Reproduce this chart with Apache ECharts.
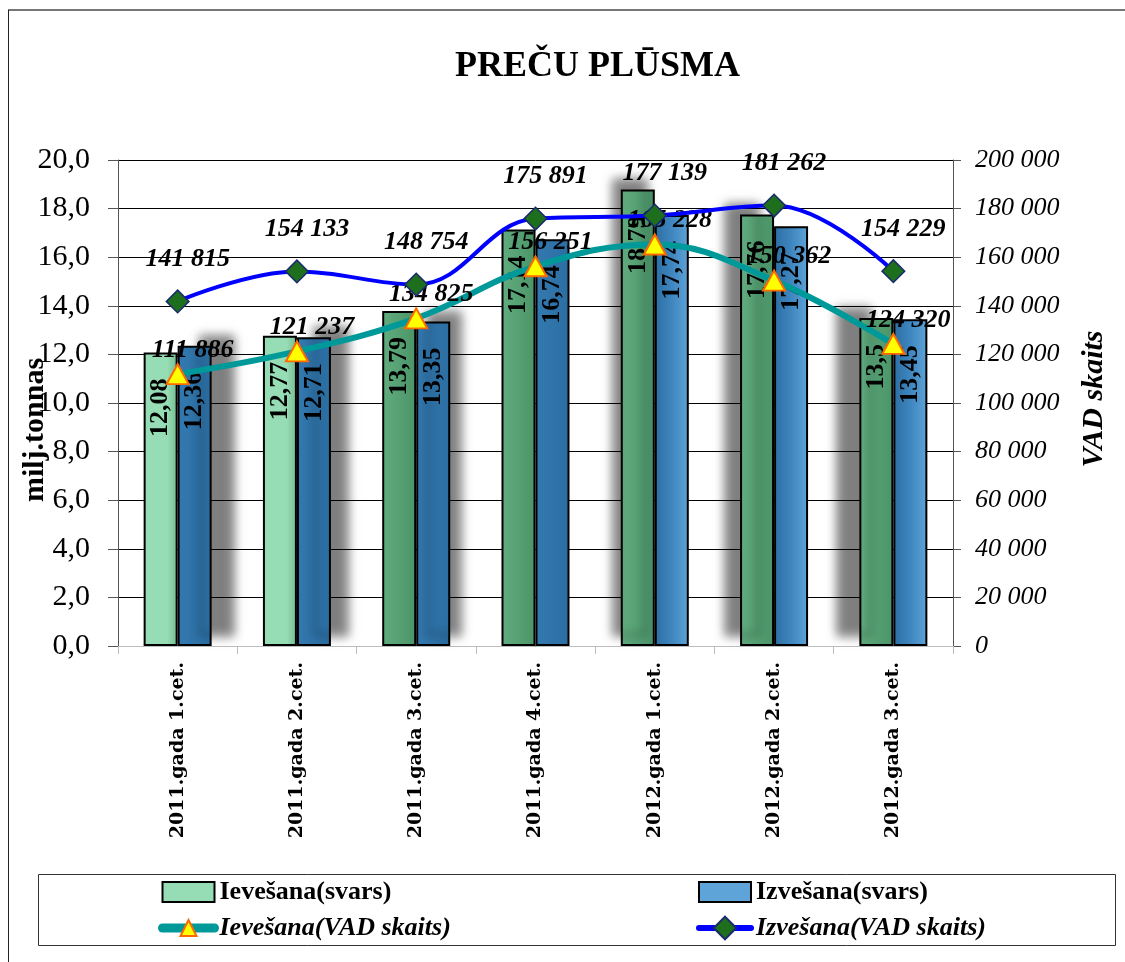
<!DOCTYPE html>
<html><head><meta charset="utf-8">
<script src="https://cdn.jsdelivr.net/npm/echarts@6/dist/echarts.min.js"></script>
<style>html,body{margin:0;padding:0;background:#fff}#c{width:1125px;height:962px}</style>
</head><body><div id="c"></div>
<script>
const categories = ['2011.gada 1.cet.','2011.gada 2.cet.','2011.gada 3.cet.','2011.gada 4.cet.','2012.gada 1.cet.','2012.gada 2.cet.','2012.gada 3.cet.'];
const ievesanaSvars = [12.08, 12.77, 13.79, 17.14, 18.79, 17.76, 13.5];
const izvesanaSvars = [12.36, 12.71, 13.35, 16.74, 17.74, 17.27, 13.45];
const ievesanaVAD = [111886, 121237, 134825, 156251, 165228, 150362, 124320];
const izvesanaVAD = [141815, 154133, 148754, 175891, 177139, 181262, 154229];
const leftTicks = {min: 0, max: 20, interval: 2};
const rightTicks = {min: 0, max: 200000, interval: 20000};

const FONT = "'Liberation Serif','Times New Roman',serif";
const sp = v => String(v).replace(/\B(?=(\d{3})+(?!\d))/g, ' ');
const comma = v => String(v).replace('.', ',');

const greenLight = '#96dcb4';
const blueDark = '#2b6ea2', blueLight = '#5ea4d8';
const shadowShift = [22, 17, 11, 0, -8, -15, -22];
const SH = 'rgba(0,0,0,0.5)';

const greenData = ievesanaSvars.map((v, i) => ({
  value: v,
  itemStyle: Object.assign({
    color: i < 2 ? {type:'linear',x:0,y:0,x2:1,y2:0,colorStops:[{offset:0,color:greenLight},{offset:0.7,color:greenLight},{offset:1,color:'#72bb8f'}]}
                 : {type:'linear',x:0,y:0,x2:1,y2:0,colorStops:[{offset:0,color:'#62ad80'},{offset:1,color:'#4a9468'}]}
  }, shadowShift[i] < 0 ? {shadowColor: SH, shadowBlur: 10, shadowOffsetX: shadowShift[i], shadowOffsetY: -10} : {})
}));
const blueData = izvesanaSvars.map((v, i) => ({
  value: v,
  itemStyle: Object.assign({
    color: i < 4 ? {type:'linear',x:0,y:0,x2:1,y2:0,colorStops:[{offset:0,color:'#3379b0'},{offset:1,color:blueDark}]}
                 : {type:'linear',x:0,y:0,x2:1,y2:0,colorStops:[{offset:0,color:blueDark},{offset:0.5,color:'#3f86bf'},{offset:1,color:blueLight}]}
  }, shadowShift[i] > 0 ? {shadowColor: SH, shadowBlur: 10, shadowOffsetX: shadowShift[i], shadowOffsetY: -10} : {})
}));

const barLabel = {
  show: true, position: 'insideTop', rotate: 90, align: 'right', verticalAlign: 'middle', distance: 26,
  fontFamily: FONT, fontWeight: 'bold', fontSize: 26, color: '#000',
  formatter: p => comma(p.value)
};
const lineLabelStyle = {fontFamily: FONT, fontWeight: 'bold', fontStyle: 'italic', fontSize: 26, color: '#000'};
const legendText = {fontFamily: FONT, fontWeight: 'bold', fontSize: 26, color: '#000'};

const chart = echarts.init(document.getElementById('c'), null, {renderer: 'canvas'});
chart.setOption({
  backgroundColor: '#fff',
  animation: false,
  title: {text: 'PREČU PLŪSMA', left: 450, top: 44, textStyle: {fontFamily: FONT, fontWeight: 'bold', fontSize: 36, color: '#000'}},
  grid: {left: 118, right: 172, top: 160, bottom: 316, containLabel: false, outerBoundsMode: 'none'},
  legend: [
    {left: 153, top: 874, orient: 'vertical', itemWidth: 52, itemHeight: 20, itemGap: 10, textStyle: legendText,
     data: [{name: 'Ievešana(svars)', icon: 'rect'},
            {name: 'Ievešana(VAD skaits)', textStyle: {fontStyle: 'italic'}, lineStyle: {width: 9, cap: 'round', color: '#009999'}}]},
    {left: 691, top: 874, orient: 'vertical', itemWidth: 52, itemHeight: 20, itemGap: 10, textStyle: legendText,
     data: [{name: 'Izvešana(svars)', icon: 'rect'},
            {name: 'Izvešana(VAD skaits)', textStyle: {fontStyle: 'italic'}, lineStyle: {width: 6, cap: 'round', color: '#0000ff'}}]}
  ],
  xAxis: {
    type: 'category', data: categories, boundaryGap: true,
    axisLine: {lineStyle: {color: '#bdbdbd', width: 1}},
    axisTick: {show: true, length: 8, lineStyle: {color: '#bdbdbd'}},
    axisLabel: {rotate: 90, margin: 16, fontFamily: "'DejaVu Serif',serif", fontWeight: 'bold', fontSize: 19, color: '#000'}
  },
  yAxis: [
    {type: 'value', min: leftTicks.min, max: leftTicks.max, interval: leftTicks.interval, position: 'left',
     name: 'milj.tonnas', nameLocation: 'middle', nameGap: 68, nameMoveOverlap: false,
     nameTextStyle: {fontFamily: FONT, fontWeight: 'bold', fontSize: 30, color: '#000', padding: [0, 54, 0, 0]},
     axisLine: {show: true, lineStyle: {color: '#555', width: 1}},
     axisTick: {show: true, length: 10, lineStyle: {color: '#555'}},
     splitLine: {show: true, lineStyle: {color: '#000', width: 1}},
     axisLabel: {margin: 28, fontFamily: FONT, fontSize: 30, color: '#000', formatter: v => v.toFixed(1).replace('.', ',')}},
    {type: 'value', min: rightTicks.min, max: rightTicks.max, interval: rightTicks.interval, position: 'right',
     name: 'VAD skaits', nameLocation: 'middle', nameGap: 126, nameMoveOverlap: false,
     nameTextStyle: {fontFamily: FONT, fontWeight: 'bold', fontStyle: 'italic', fontSize: 30, color: '#000', padding: [0, 0, 0, 8]},
     axisLine: {show: true, lineStyle: {color: '#555', width: 1}},
     axisTick: {show: true, length: 8, lineStyle: {color: '#555'}},
     splitLine: {show: false},
     axisLabel: {margin: 22, fontFamily: FONT, fontStyle: 'italic', fontSize: 26, color: '#000', formatter: v => sp(v)}}
  ],
  series: [
    {name: 'Ievešana(svars)', type: 'bar', yAxisIndex: 0, barWidth: 34, barGap: '0%', data: greenData,
     itemStyle: {color: greenLight, borderColor: '#000', borderWidth: 2}, label: barLabel, z: 2},
    {name: 'Izvešana(svars)', type: 'bar', yAxisIndex: 0, barWidth: 34, barGap: '0%', data: blueData,
     itemStyle: {color: blueLight, borderColor: '#000', borderWidth: 2}, label: barLabel, z: 2},
    {name: 'Ievešana(VAD skaits)', type: 'line', yAxisIndex: 1, data: ievesanaVAD, smooth: 0.4,
     lineStyle: {color: '#009999', width: 6}, itemStyle: {color: '#ffff00', borderColor: '#ff6a00', borderWidth: 2},
     symbol: 'triangle', symbolSize: [22, 20],
     label: Object.assign({show: true, position: 'top', distance: 0, offset: [15, 0], formatter: p => sp(p.value)}, lineLabelStyle), z: 5},
    {name: 'Izvešana(VAD skaits)', type: 'line', yAxisIndex: 1, data: izvesanaVAD, smooth: 0.4,
     lineStyle: {color: '#0000ff', width: 4}, itemStyle: {color: '#1d6e1d', borderColor: '#1a2a6e', borderWidth: 1.5},
     symbol: 'rect', symbolRotate: 45, symbolSize: 16,
     label: Object.assign({show: true, position: 'top', distance: 17, offset: [10, 0], formatter: p => sp(p.value)}, lineLabelStyle), z: 6}
  ],
  graphic: [
    {type: 'line', shape: {x1: 8, y1: 10, x2: 1125, y2: 10}, style: {stroke: '#777', lineWidth: 2}, silent: true},
    {type: 'line', shape: {x1: 8.5, y1: 10, x2: 8.5, y2: 962}, style: {stroke: '#222', lineWidth: 1}, silent: true},
    {type: 'rect', shape: {x: 38.5, y: 874.5, width: 1077, height: 71}, style: {fill: 'none', stroke: '#333', lineWidth: 1}, silent: true, z: -1}
  ]
});
</script></body></html>
